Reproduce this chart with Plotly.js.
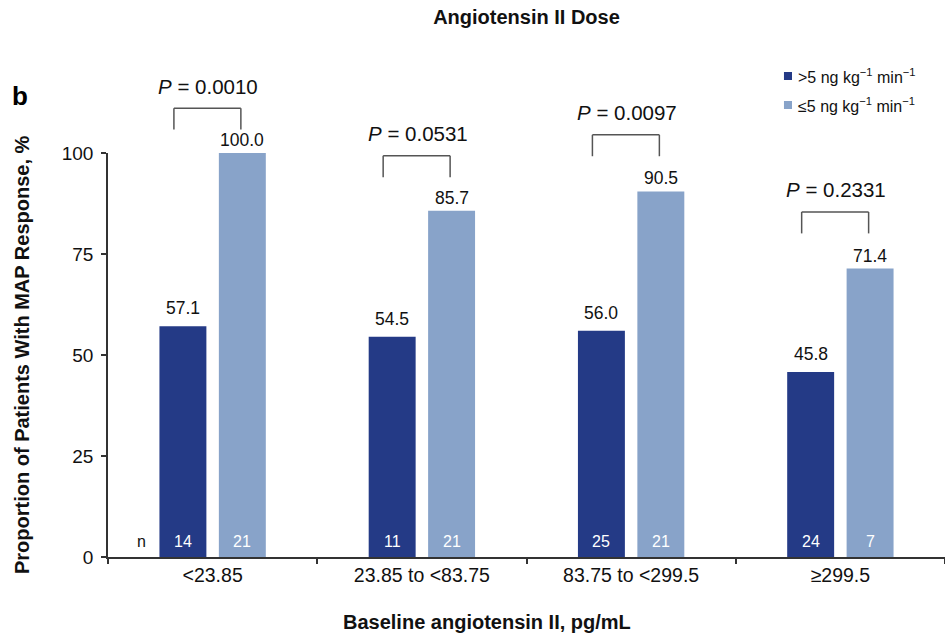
<!DOCTYPE html>
<html>
<head>
<meta charset="utf-8">
<script src="https://cdn.plot.ly/plotly-3.0.1.min.js"></script>
<style>html,body{margin:0;padding:0;background:#fff;}#chart{width:945px;height:636px;}</style>
</head>
<body>
<div id="chart"></div>
<script>
// ---- data ----
var categories = ['<23.85', '23.85 to <83.75', '83.75 to <299.5', '\u2265299.5'];
var seriesNames = ['>5 ng kg<sup>\u22121</sup> min<sup>\u22121</sup>', '\u22645 ng kg<sup>\u22121</sup> min<sup>\u22121</sup>'];
var highDose = [57.1, 54.5, 56.0, 45.8];
var lowDose = [100.0, 85.7, 90.5, 71.4];
var highN = [14, 11, 25, 24];
var lowN = [21, 21, 21, 7];
var pValues = ['0.0010', '0.0531', '0.0097', '0.2331'];
var bracketLevel = [111.1, 99.3, 104.5, 85.4];
var yTicks = [0, 25, 50, 75, 100];
var titleText = 'Angiotensin II Dose';
var xTitleText = 'Baseline angiotensin II, pg/mL';
var yTitleText = 'Proportion of Patients With MAP Response, %';

// ---- style ----
var darkColor = '#243a86';
var lightColor = '#88a3c9';
var font = 'Liberation Sans, Arial, Helvetica, sans-serif';
var textColor = '#111111';
var yMax = 100;
var barOff = 0.142;

(function () {
  var traces = [
    {type: 'bar', x: categories, y: highDose, name: 'high', marker: {color: darkColor}},
    {type: 'bar', x: categories, y: lowDose, name: 'low', marker: {color: lightColor}}
  ];

  var annotations = [];
  var shapes = [];
  var bracketLine = {color: '#555555', width: 1.5};

  for (var i = 0; i < categories.length; i++) {
    annotations.push({x: i - barOff, y: highDose[i], xref: 'x', yref: 'y', text: highDose[i].toFixed(1), showarrow: false,
      yanchor: 'middle', yshift: 18, font: {family: font, size: 17.5, color: textColor}});
    annotations.push({x: i + barOff, y: lowDose[i], xref: 'x', yref: 'y', text: lowDose[i].toFixed(1), showarrow: false,
      yanchor: 'middle', yshift: 13, font: {family: font, size: 17.5, color: textColor}});
    annotations.push({x: i - barOff, y: 0, xref: 'x', yref: 'y', text: String(highN[i]), showarrow: false,
      yanchor: 'middle', yshift: 16, font: {family: font, size: 16, color: '#ffffff'}});
    annotations.push({x: i + barOff, y: 0, xref: 'x', yref: 'y', text: String(lowN[i]), showarrow: false,
      yanchor: 'middle', yshift: 16, font: {family: font, size: 16, color: '#ffffff'}});
    var bTop = bracketLevel[i] / yMax;
    var bBot = (bracketLevel[i] - 5.3) / yMax;
    var xl = i - 0.185, xr = i + 0.135;
    shapes.push({type: 'line', xref: 'x', yref: 'paper', x0: xl, x1: xl, y0: bBot, y1: bTop, line: bracketLine});
    shapes.push({type: 'line', xref: 'x', yref: 'paper', x0: xl, x1: xr, y0: bTop, y1: bTop, line: bracketLine});
    shapes.push({type: 'line', xref: 'x', yref: 'paper', x0: xr, x1: xr, y0: bBot, y1: bTop, line: bracketLine});
    annotations.push({x: i - 0.02, y: bTop, xref: 'x', yref: 'paper', text: '<i>P</i> = ' + pValues[i], showarrow: false,
      yanchor: 'middle', yshift: 22, font: {family: font, size: 20.5, color: textColor}});
  }

  annotations.push({x: -0.34, y: 0, xref: 'x', yref: 'y', text: 'n', showarrow: false,
    yanchor: 'middle', yshift: 16, font: {family: font, size: 16, color: textColor}});

  annotations.push({x: -0.105, y: 1.141, xref: 'paper', yref: 'paper', text: '<b>b</b>', showarrow: false,
    xanchor: 'center', yanchor: 'middle', font: {family: font, size: 26, color: '#000000'}});

  // axis titles
  annotations.push({x: 0.453, y: -0.161, xref: 'paper', yref: 'paper', text: '<b>' + xTitleText + '</b>', showarrow: false,
    xanchor: 'center', yanchor: 'middle', font: {family: font, size: 20, color: textColor}});
  annotations.push({x: -0.1027, y: 0.5, xref: 'paper', yref: 'paper', text: '<b>' + yTitleText + '</b>', showarrow: false,
    textangle: -90, xanchor: 'center', yanchor: 'middle', font: {family: font, size: 20, color: textColor}});

  var legendColors = [darkColor, lightColor];
  var legendY = [1.1906, 1.1188];
  for (var k = 0; k < 2; k++) {
    shapes.push({type: 'rect', xref: 'paper', yref: 'paper',
      x0: 0.8124 - 0.0048, x1: 0.8124 + 0.0048, y0: legendY[k] - 0.0099, y1: legendY[k] + 0.0099,
      fillcolor: legendColors[k], line: {width: 0}});
    annotations.push({x: 0.8225, y: legendY[k], xref: 'paper', yref: 'paper', text: seriesNames[k], showarrow: false,
      xanchor: 'left', yanchor: 'middle', font: {family: font, size: 16, color: textColor}});
  }

  var layout = {
    width: 945, height: 636,
    margin: {l: 108, r: 0, t: 153, b: 79},
    paper_bgcolor: '#ffffff', plot_bgcolor: '#ffffff',
    showlegend: false,
    barmode: 'group', bargap: 0.432, bargroupgap: 0.21,
    title: {text: '<b>' + titleText + '</b>', x: 0.5, xref: 'paper', xanchor: 'center', y: 0.973, yanchor: 'middle',
      font: {family: font, size: 20, color: textColor}},
    xaxis: {
      type: 'category', range: [-0.5, 3.5], tickson: 'boundaries',
      ticks: 'outside', ticklen: 5, tickwidth: 1.5, tickcolor: '#333333',
      showline: true, linecolor: '#333333', linewidth: 1.5,
      showgrid: false, zeroline: false,
      tickfont: {family: font, size: 19.5, color: textColor}
    },
    yaxis: {
      range: [0, yMax], tickvals: yTicks,
      ticks: 'outside', ticklen: 5, tickwidth: 1.5, tickcolor: '#333333',
      showline: true, linecolor: '#333333', linewidth: 1.5,
      showgrid: false, zeroline: false, ticklabelstandoff: 4,
      tickfont: {family: font, size: 19, color: textColor}
    },
    shapes: shapes,
    annotations: annotations
  };

  Plotly.newPlot('chart', traces, layout, {displayModeBar: false});
})();
</script>
</body>
</html>
